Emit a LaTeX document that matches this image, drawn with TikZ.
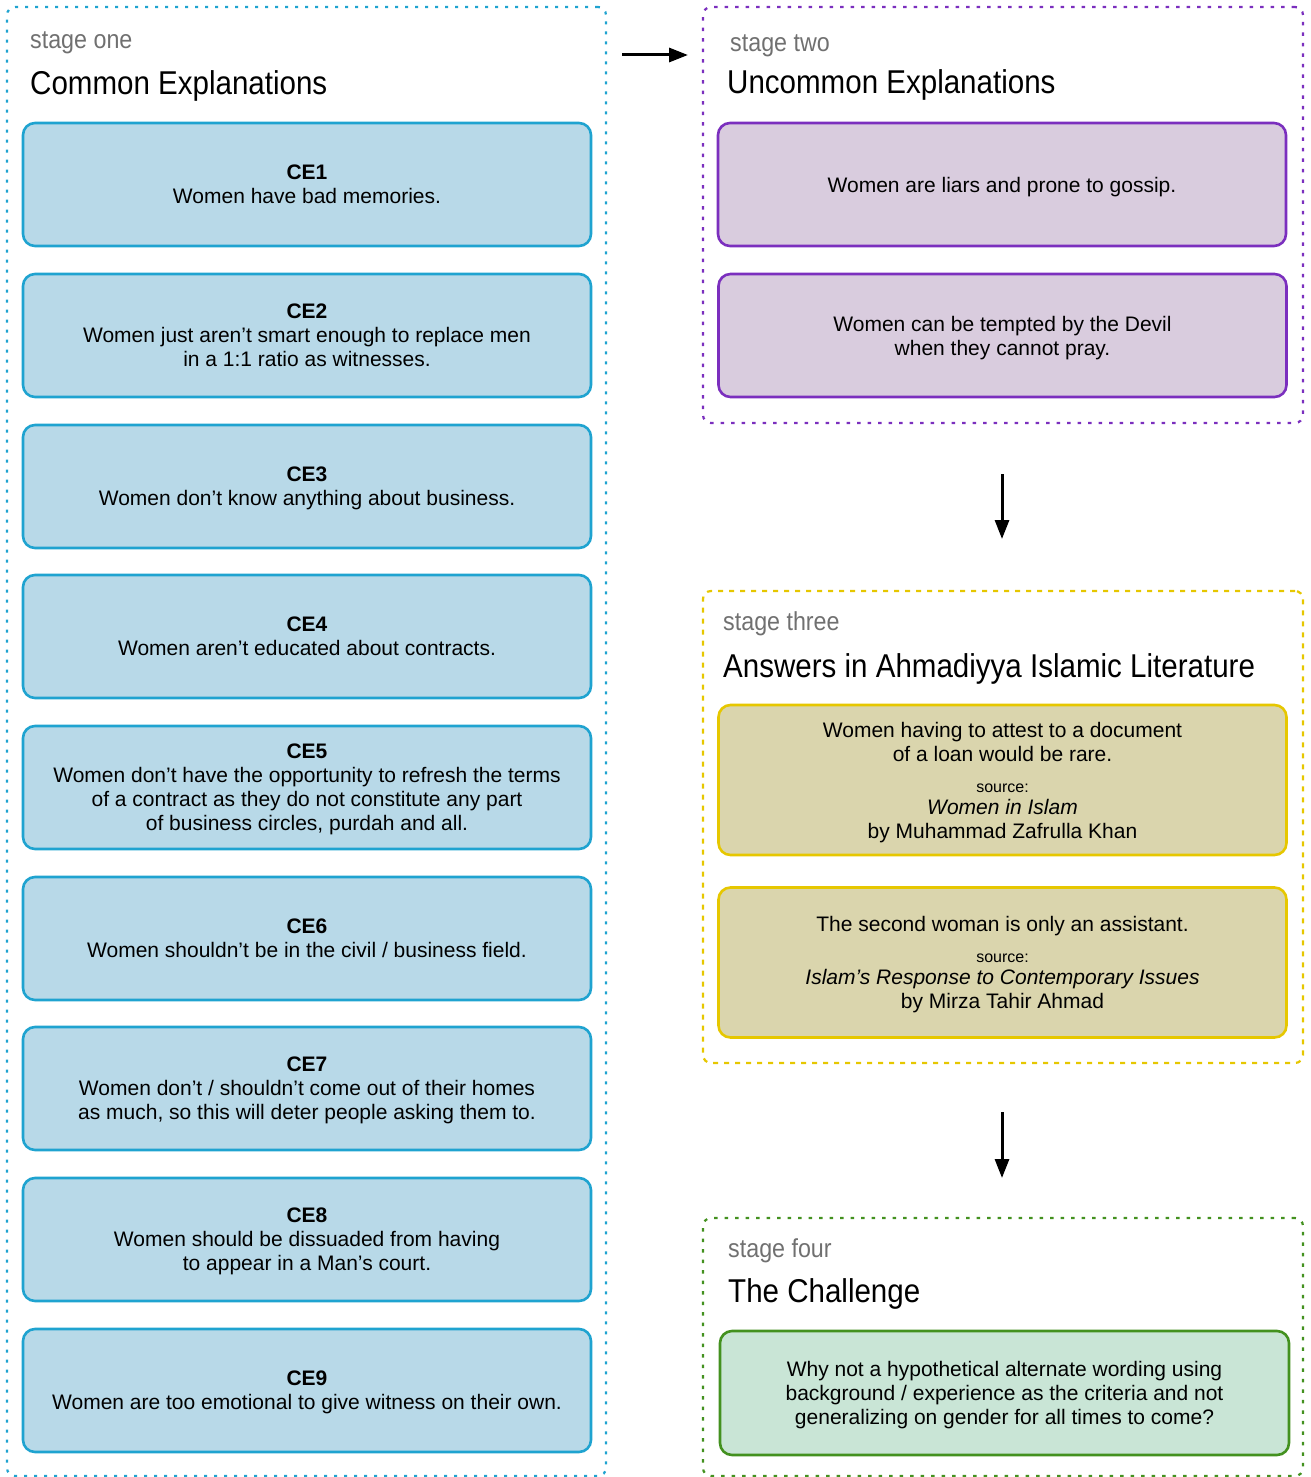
\documentclass[tikz,border=0pt]{standalone}
\usepackage{fontspec}
\setmainfont{Liberation Sans}
\newfontfamily\condfont[FakeStretch=0.895]{Liberation Sans}
\usetikzlibrary{arrows.meta}
\definecolor{bluefill}{HTML}{B8D9E8}
\definecolor{bluedraw}{HTML}{1FA3D0}
\definecolor{purpfill}{HTML}{D9CCDE}
\definecolor{purpdraw}{HTML}{7B2FBE}
\definecolor{yelfill}{HTML}{DAD5AD}
\definecolor{yeldraw}{HTML}{E6C700}
\definecolor{grnfill}{HTML}{C9E5D6}
\definecolor{grndraw}{HTML}{43911F}
\definecolor{stagegray}{HTML}{707070}
\tikzset{
  container/.style={rectangle, rounded corners=8pt, line width=2.2pt, minimum width=600pt, inner sep=0pt},
  box/.style={rectangle, rounded corners=12pt, line width=2.6pt, minimum width=568pt, minimum height=123pt, align=center, inner sep=0pt, text depth=-4pt, font=\fontsize{21}{24}\selectfont},
  cebox/.style={box, draw=bluedraw, fill=bluefill, text depth=-8pt},
  pbox/.style={box, draw=purpdraw, fill=purpfill},
  ybox/.style={box, draw=yeldraw, fill=yelfill, minimum height=150pt},
  gbox/.style={box, draw=grndraw, fill=grnfill, minimum width=569pt, minimum height=124pt, text depth=-5pt},
  stagelbl/.style={anchor=base west, inner sep=0pt, text=stagegray, font=\condfont\fontsize{26}{30}\selectfont},
  titlelbl/.style={anchor=base west, inner sep=0pt, font=\condfont\fontsize{33}{38}\selectfont},
  arr/.style={line width=3pt, -{Triangle[length=19pt,width=14pt]}},
}
\newcommand{\srcline}[1]{{\fontsize{16}{19}\selectfont #1}}
\begin{document}
\begin{tikzpicture}[x=1pt,y=-1pt]
\useasboundingbox (0,0) rectangle (1311,1477);
% containers
\node[container, draw=bluedraw, dash pattern=on 3pt off 7pt, minimum width=599pt, minimum height=1469pt] (s1) at (306.5,741.5) {};
\node[container, draw=purpdraw, dash pattern=on 3.5pt off 7pt, minimum height=416pt] (s2) at (1003,215) {};
\node[container, draw=yeldraw, dash pattern=on 5pt off 6pt, minimum height=472pt] (s3) at (1003,827) {};
\node[container, draw=grndraw, dash pattern=on 3.5pt off 7pt, minimum height=258pt] (s4) at (1003,1347) {};
% labels
\node[stagelbl] (l1) at (30,49) {stage one};
\node[titlelbl] (t1) at (30,95) {Common Explanations};
\node[stagelbl] (l2) at (730,52) {stage two};
\node[titlelbl] (t2) at (727,94) {Uncommon Explanations};
\node[stagelbl] (l3) at (723,630) {stage three};
\node[titlelbl] (t3) at (723,677) {Answers in Ahmadiyya Islamic Literature};
\node[stagelbl] (l4) at (728,1257) {stage four};
\node[titlelbl] (t4) at (728,1302) {The Challenge};
% stage one boxes
\node[cebox] (ce1) at (307,184.5) {\textbf{CE1}\\Women have bad memories.};
\node[cebox] (ce2) at (307,335.5) {\textbf{CE2}\\Women just aren’t smart enough to replace men\\in a 1:1 ratio as witnesses.};
\node[cebox] (ce3) at (307,486.5) {\textbf{CE3}\\Women don’t know anything about business.};
\node[cebox] (ce4) at (307,636.5) {\textbf{CE4}\\Women aren’t educated about contracts.};
\node[cebox] (ce5) at (307,787.5) {\textbf{CE5}\\Women don’t have the opportunity to refresh the terms\\of a contract as they do not constitute any part\\of business circles, purdah and all.};
\node[cebox] (ce6) at (307,938.5) {\textbf{CE6}\\Women shouldn’t be in the civil / business field.};
\node[cebox] (ce7) at (307,1088.5) {\textbf{CE7}\\Women don’t / shouldn’t come out of their homes\\as much, so this will deter people asking them to.};
\node[cebox] (ce8) at (307,1239.5) {\textbf{CE8}\\Women should be dissuaded from having\\to appear in a Man’s court.};
\node[cebox] (ce9) at (307,1390.5) {\textbf{CE9}\\Women are too emotional to give witness on their own.};
% stage two boxes
\node[pbox] (u1) at (1002,184.5) {Women are liars and prone to gossip.};
\node[pbox] (u2) at (1002.5,335.5) {Women can be tempted by the Devil\\when they cannot pray.};
% stage three boxes
\node[ybox] (a1) at (1002.5,780) {Women having to attest to a document\\of a loan would be rare.\\[7pt]\srcline{source:}\\[-2pt]\textit{Women in Islam}\\by Muhammad Zafrulla Khan};
\node[ybox] (a2) at (1002.5,962.5) {The second woman is only an assistant.\\[7pt]\srcline{source:}\\[-2pt]\textit{Islam’s Response to Contemporary Issues}\\by Mirza Tahir Ahmad};
% stage four box
\node[gbox] (c1) at (1004.5,1393) {Why not a hypothetical alternate wording using\\background / experience as the criteria and not\\generalizing on gender for all times to come?};
% arrows
\coordinate (p1) at (622,55);
\coordinate (p2) at (688,55);
\coordinate (p3) at (1002,474);
\coordinate (p4) at (1002,539);
\coordinate (p5) at (1002,1112);
\coordinate (p6) at (1002,1178);
\draw[arr] (p1) -- (p2);
\draw[arr] (p3) -- (p4);
\draw[arr] (p5) -- (p6);
\end{tikzpicture}
\end{document}
